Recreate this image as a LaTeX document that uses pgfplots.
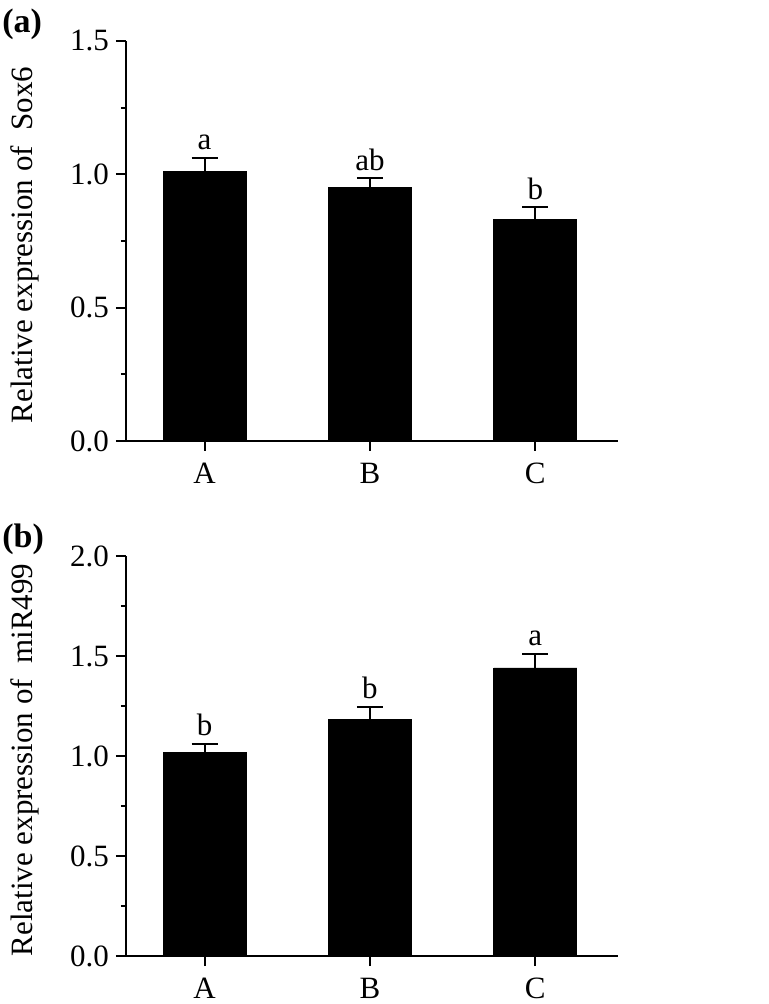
\documentclass[border=0pt]{standalone}
\usepackage{fontspec}
\setmainfont{Liberation Serif}
\usepackage{pgfplots}
\pgfplotsset{compat=1.18}
\tikzset{lbl/.style={anchor=base, yshift=4pt, font=\fontsize{15.5}{18}\selectfont}}
\begin{document}
\begin{tikzpicture}
\useasboundingbox (-63pt,-24pt) rectangle (321pt,478pt);
\pgfplotsset{
 mystyle/.style={
  scale only axis, width=246pt, height=200pt,
  axis x line*=bottom, axis y line*=left,
  xmin=-0.475, xmax=2.5, ymin=0,
  xtick={0,1,2}, xticklabels={A,B,C},
  tick align=outside, major tick length=5pt, minor tick length=2.5pt,
  minor y tick num=1,
  axis line style={line width=1pt},
  every tick/.style={black, line width=1pt},
  ticklabel style={font=\fontsize{15.5}{18}\selectfont},
  /pgf/number format/assume math mode=true,
  yticklabel style={/pgf/number format/fixed, /pgf/number format/fixed zerofill, /pgf/number format/precision=1},
  xticklabel style={yshift=-2.5pt},
  label style={font=\fontsize{15.5}{18}\selectfont},
  ylabel style={at={(axis description cs:-0.176,0.49)}, anchor=south, inner sep=0pt},
  ybar, bar width=41.5pt,
 },
 bars/.style={fill=black, draw=black, error bars/.cd, y dir=plus, y explicit,
  error bar style={line width=1pt, black},
  error mark options={rotate=90, mark size=6.5pt, line width=1pt, black}},
}
\begin{axis}[mystyle, name=pa, at={(0,257.5pt)}, ymax=1.5, ytick={0,0.5,1,1.5},
  ylabel={Relative expression of\ \ Sox6}]
\addplot[bars] coordinates {(0,1.011) +- (0,0.052) (1,0.951) +- (0,0.034) (2,0.830) +- (0,0.046)};
\node[lbl] at (axis cs:0,1.063) {a};
\node[lbl] at (axis cs:1,0.985) {ab};
\node[lbl] at (axis cs:2,0.876) {b};
\end{axis}
\node[anchor=north west, inner sep=0pt, font=\fontsize{17}{20}\selectfont\bfseries] at ([shift={(-62pt,16pt)}]pa.north west) {(a)};
\begin{axis}[mystyle, name=pb, at={(0,0)}, ymax=2, ytick={0,0.5,1,1.5,2},
  ylabel={Relative expression of\ \ miR499}]
\addplot[bars] coordinates {(0,1.018) +- (0,0.042) (1,1.183) +- (0,0.064) (2,1.440) +- (0,0.070)};
\node[lbl] at (axis cs:0,1.060) {b};
\node[lbl] at (axis cs:1,1.247) {b};
\node[lbl] at (axis cs:2,1.510) {a};
\end{axis}
\node[anchor=north west, inner sep=0pt, font=\fontsize{17}{20}\selectfont\bfseries] at ([shift={(-62pt,16pt)}]pb.north west) {(b)};
\end{tikzpicture}
\end{document}
